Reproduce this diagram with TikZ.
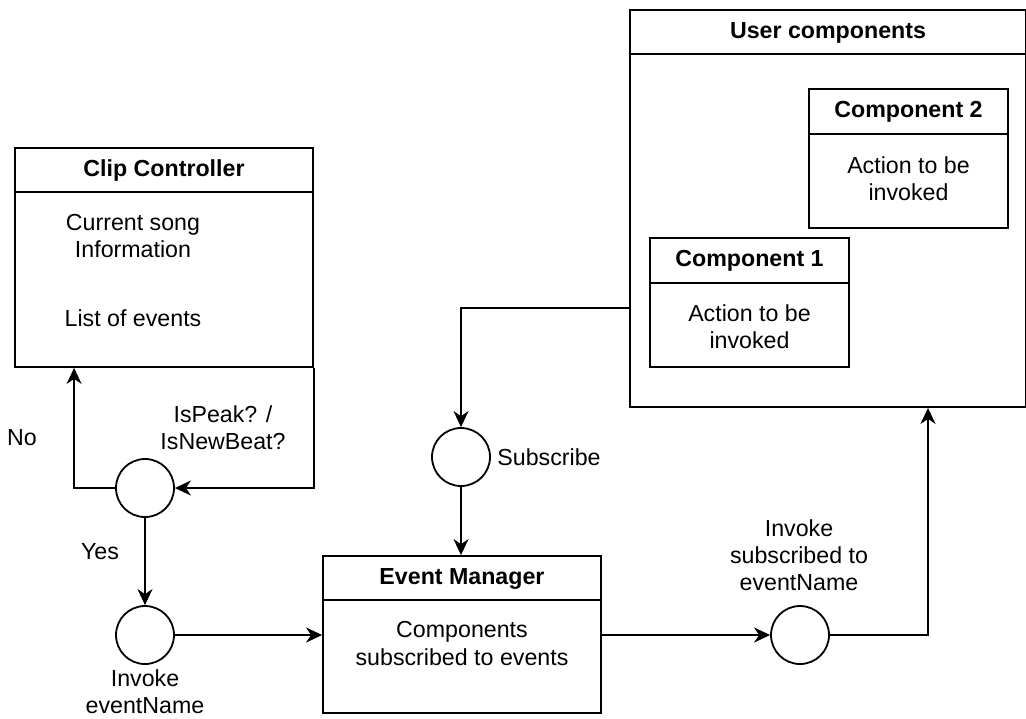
\documentclass[tikz,border=0pt]{standalone}
\usepackage{fontspec}
\setmainfont{Liberation Sans}
\usetikzlibrary{arrows.meta}
\tikzset{
  box/.style={draw, line width=0.9pt, inner sep=0pt},
  title/.style={font=\fontsize{11.6}{13.6}\selectfont\bfseries, inner sep=0pt},
  txt/.style={align=center, inner sep=0pt},
  circ/.style={draw, circle, line width=0.9pt, minimum size=29pt, inner sep=0pt},
  arr/.style={-{Stealth[length=8pt, width=7.5pt, inset=2.5pt]}, line width=0.9pt},
}
\begin{document}
\begin{tikzpicture}[x=0.5pt, y=-0.5pt, font=\fontsize{11.6}{13.6}\selectfont]
      \useasboundingbox (0,0) rectangle (1026,718);
      %
      \node[box, minimum width=149pt, minimum height=109.5pt] (cc) at (164,257.5) {};   % clip controller
      \draw[line width=0.9pt] ([yshift=-22.5pt]cc.north west) -- ([yshift=-22.5pt]cc.north east);
      \node[title] (cctitle) at (164,170.5) {Clip Controller};
      \node[txt] (ccinfo) at (133,236) {Current song\\Information};
      \node[txt] (ccevents) at (133,318) {List of events};
      %
      \node[box, minimum width=139pt, minimum height=78.5pt] (em) at (462,634.5) {};    % event manager
      \draw[line width=0.9pt] ([yshift=-22.5pt]em.north west) -- ([yshift=-22.5pt]em.north east);
      \node[title] (emtitle) at (462,578.5) {Event Manager};
      \node[txt] (eminfo) at (462,643.5) {Components\\subscribed to events};
      %
      \node[box, minimum width=198pt, minimum height=198.5pt] (uc) at (828,208.5) {};   % user components
      \draw[line width=0.9pt] ([yshift=-22.5pt]uc.north west) -- ([yshift=-22.5pt]uc.north east);
      \node[title] (uctitle) at (828,32.5) {User components};
      %
      \node[box, minimum width=99.5pt, minimum height=69.5pt] (comptwo) at (908.5,158.5) {};
      \draw[line width=0.9pt] ([yshift=-23pt]comptwo.north west) -- ([yshift=-23pt]comptwo.north east);
      \node[title] (comptwotitle) at (908.5,112) {Component 2};
      \node[txt] (comptwoinfo) at (908.5,178.5) {Action to be\\invoked};
      %
      \node[box, minimum width=99.5pt, minimum height=64.5pt] (compone) at (749.5,302.5) {};
      \draw[line width=0.9pt] ([yshift=-23pt]compone.north west) -- ([yshift=-23pt]compone.north east);
      \node[title] (componetitle) at (749.5,261) {Component 1};
      \node[txt] (componeinfo) at (749.5,326.5) {Action to be\\invoked};
      %
      \node[circ] (peak) at (145,488) {};                 % circles
      \node[circ] (invoke) at (145,635) {};
      \node[circ] (sub) at (461,457) {};
      \node[circ] (isub) at (800,635) {};
      %
      \node[txt] (nolbl) at (22,438) {No};                % labels
      \node[txt] (peaklbl) at (223,428) {IsPeak? /\\IsNewBeat?};
      \node[txt] (yeslbl) at (100,552) {Yes};
      \node[txt] (invokelbl) at (145,692) {Invoke\\eventName};
      \node[txt, anchor=west] (sublbl) at (497,457) {Subscribe};
      \node[txt] (isublbl) at (799,555) {Invoke\\subscribed to\\eventName};
      %
      \draw[arr] (peak.west) -| ([xshift=30pt]cc.south west);   % connectors
      \draw[arr] (cc.south east) |- (peak.east);
      \draw[arr] (peak) -- (invoke);
      \draw[arr] (invoke.east) -- (invoke.east -| em.west);
      \draw[arr] ([yshift=-49.75pt]uc.west) -| (sub);
      \draw[arr] (sub.south) -- (sub.south |- em.north);
      \draw[arr] (em.east |- isub) -- (isub);
      \draw[arr] (isub.east) -| ([xshift=50pt]uc.south);
      %
    \end{tikzpicture}
\end{document}
